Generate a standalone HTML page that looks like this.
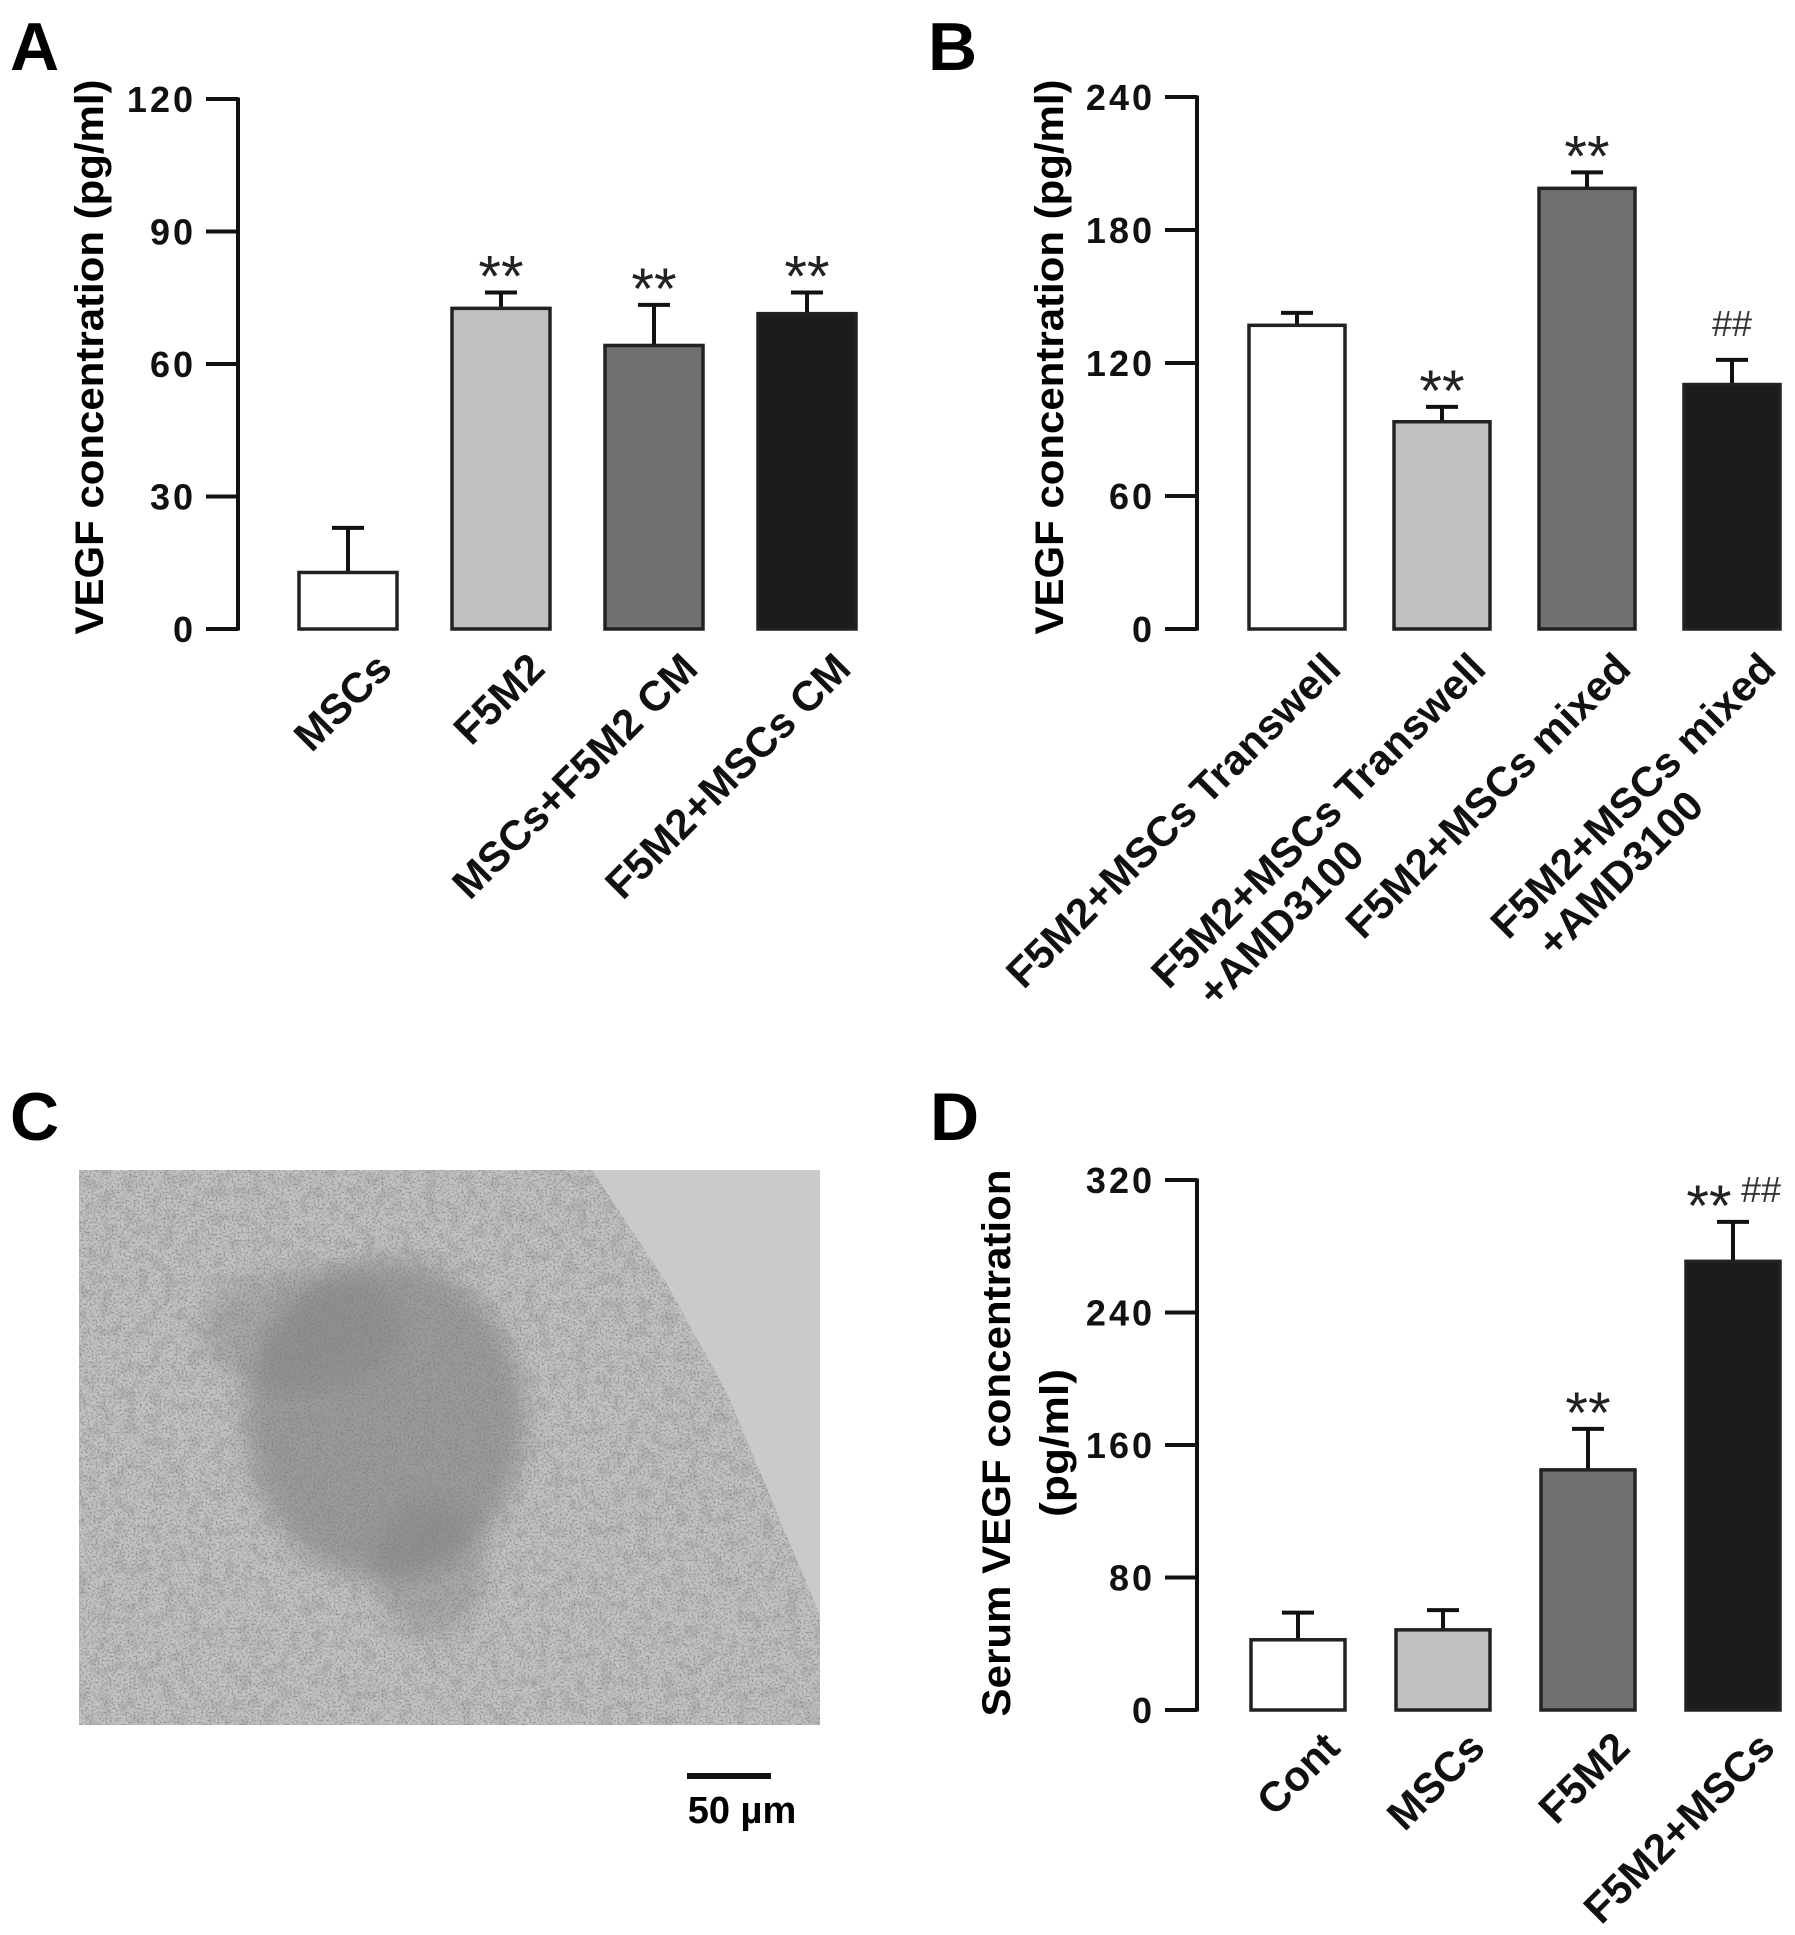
<!DOCTYPE html>
<html><head><meta charset="utf-8"><style>
html,body{margin:0;padding:0;background:#fff;}
svg{display:block;}
text{font-family:"Liberation Sans",Arial,sans-serif;}
</style></head><body>
<svg id="fig" width="1795" height="1935" viewBox="0 0 1795 1935" xmlns="http://www.w3.org/2000/svg">
<defs>
<filter id="grain" x="0" y="0" width="100%" height="100%">
<feTurbulence type="fractalNoise" baseFrequency="0.5" numOctaves="2" seed="7" result="n"/>
<feColorMatrix type="matrix" values="0 0 0 0 0.2  0 0 0 0 0.2  0 0 0 0 0.2  0 0 0 -3.2 1.75"/>
</filter>
<filter id="grain2" x="0" y="0" width="100%" height="100%">
<feTurbulence type="fractalNoise" baseFrequency="0.08" numOctaves="3" seed="3"/>
<feColorMatrix type="matrix" values="0 0 0 0 0.3  0 0 0 0 0.3  0 0 0 0 0.3  0 0 0 -4 2.2"/>
</filter>
<filter id="blur8"><feGaussianBlur stdDeviation="12"/></filter>
<clipPath id="imgclip"><rect x="79" y="1170" width="741" height="555"/></clipPath>
<clipPath id="tissueclip"><polygon points="79,1170 592,1170 666,1282 727,1393 789,1541 820,1615 820,1725 79,1725"/></clipPath>
</defs>

<text x="10" y="70" font-size="68" font-weight="bold">A</text>
<text x="928" y="70" font-size="68" font-weight="bold">B</text>
<text x="10" y="1140" font-size="68" font-weight="bold">C</text>
<text x="930" y="1140" font-size="68" font-weight="bold">D</text>

<g clip-path="url(#imgclip)">
<rect x="79" y="1170" width="741" height="555" fill="#c8c8c8"/>
<g clip-path="url(#tissueclip)">
<rect x="79" y="1170" width="741" height="555" fill="#c4c4c4"/>
<ellipse cx="385" cy="1420" rx="140" ry="160" fill="#6a6a6a" filter="url(#blur8)" opacity="0.45"/>
<ellipse cx="300" cy="1330" rx="100" ry="60" fill="#7a7a7a" filter="url(#blur8)" opacity="0.35"/>
<ellipse cx="430" cy="1570" rx="55" ry="70" fill="#7a7a7a" filter="url(#blur8)" opacity="0.35"/>
<rect x="79" y="1170" width="741" height="555" filter="url(#grain2)" opacity="0.3"/>
<rect x="79" y="1170" width="741" height="555" filter="url(#grain)" opacity="0.65"/>
</g>
<polygon points="592,1170 820,1170 820,1615 789,1541 727,1393 666,1282" fill="#cacaca"/>
</g>
<line x1="687" y1="1776" x2="771" y2="1776" stroke="#111" stroke-width="6"/>
<text x="742" y="1823" font-size="38" font-weight="bold" text-anchor="middle">50 µm</text>

<g id="chartA"></g>
<g id="chartB"></g>
<g id="chartD"></g>
</svg>
<script>
// Panel A data
const aCategories = [["MSCs"], ["F5M2"], ["MSCs+F5M2 CM"], ["F5M2+MSCs CM"]];
const aValues = [12.8, 72.6, 64.2, 71.4];
const aErrors = [22.9, 76.2, 73.4, 76.2];
const aStars = ["", "**", "**", "**"];
const aHashes = ["", "", "", ""];
const aTicks = [0, 30, 60, 90, 120];
// Panel B data
const bCategories = [["F5M2+MSCs Transwell"], ["F5M2+MSCs Transwell", "+AMD3100"], ["F5M2+MSCs mixed"], ["F5M2+MSCs mixed", "+AMD3100"]];
const bValues = [137, 93.5, 198.8, 110.3];
const bErrors = [142.6, 100.2, 206, 121.4];
const bStars = ["", "**", "**", ""];
const bHashes = ["", "", "", "##"];
const bTicks = [0, 60, 120, 180, 240];
// Panel D data
const dCategories = [["Cont"], ["MSCs"], ["F5M2"], ["F5M2+MSCs"]];
const dValues = [42.4, 48.4, 145, 270.9];
const dErrors = [58.8, 60.3, 169.7, 294.7];
const dStars = ["", "", "**", "**"];
const dHashes = ["", "", "", "##"];
const dTicks = [0, 80, 160, 240, 320];

const fills = ["#ffffff", "#c0c0c0", "#707070", "#1c1c1c"];
const NS = "http://www.w3.org/2000/svg";
function mk(parent, tag, attrs, txt) {
  const e = document.createElementNS(NS, tag);
  for (const k in attrs) e.setAttribute(k, attrs[k]);
  if (txt !== undefined) e.textContent = txt;
  parent.appendChild(e);
  return e;
}
function drawChart(g, cfg, cats, vals, errs, stars, hashes, ticks) {
  const ymax = ticks[ticks.length - 1];
  const yS = v => cfg.y0 - (v / ymax) * (cfg.y0 - cfg.yTop);
  const axis = mk(g, "line", {x1: cfg.axisX, y1: cfg.y0 + 1.5, x2: cfg.axisX, y2: cfg.yTop - 1.5, stroke: "#111", "stroke-width": 4});
  
  
  ticks.forEach(t => {
    const y = yS(t);
    const tk = mk(g, "line", {x1: cfg.axisX - 32, y1: y, x2: cfg.axisX, y2: y, stroke: "#111", "stroke-width": 4});
    
    
    const tl = mk(g, "text", {x: cfg.axisX - 42, y: y + 13, "font-size": 36, "font-weight": "bold", "text-anchor": "end", "letter-spacing": "3", fill: "#111"}, String(t));
    
    
  });
  cfg.titles.forEach(tt => {
    const ti = mk(g, "text", {x: tt.x, y: tt.cy, "font-size": 40, "font-weight": "bold", "text-anchor": "middle", transform: `rotate(-90 ${tt.x} ${tt.cy})`, textLength: tt.len, lengthAdjust: "spacingAndGlyphs"}, tt.text);
    
    
  });
  cats.forEach((lines, i) => {
    const x = cfg.barX0 + i * cfg.step;
    const cx = x + cfg.bw / 2;
    const top = yS(vals[i]);
    const et = yS(errs[i]);
    const eb = mk(g, "line", {x1: cx, y1: top, x2: cx, y2: et, stroke: "#111", "stroke-width": 4});
    
    
    const ec = mk(g, "line", {x1: cx - 16, y1: et, x2: cx + 16, y2: et, stroke: "#111", "stroke-width": 4});
    
    
    const bar = mk(g, "rect", {x: x, y: top, width: cfg.bw, height: cfg.y0 - top, fill: fills[i], stroke: "#222", "stroke-width": 3.5});
    
    
    if (stars[i] && hashes[i]) {
      const s = mk(g, "text", {x: cx - 24, y: et + 4, "font-size": 58, "text-anchor": "middle", fill: "#222"}, stars[i]);
      
      
      const h = mk(g, "text", {x: cx + 28, y: et - 20, "font-size": 36, "text-anchor": "middle", fill: "#333", "font-family": "Liberation Serif, serif"}, hashes[i]);
      
      
    } else if (stars[i]) {
      const s = mk(g, "text", {x: cx, y: et + 4, "font-size": 58, "text-anchor": "middle", fill: "#222"}, stars[i]);
      
      
    } else if (hashes[i]) {
      const h = mk(g, "text", {x: cx, y: et - 24, "font-size": 36, "text-anchor": "middle", fill: "#333", "font-family": "Liberation Serif, serif"}, hashes[i]);
      
      
    }
    const ax = cx + cfg.labDx, ay = cfg.y0 + cfg.labDy;
    const l1 = mk(g, "text", {x: ax, y: ay, "font-size": 42, "font-weight": "bold", "text-anchor": "end", transform: `rotate(-45 ${ax} ${ay})`, fill: "#111"}, lines[0]);
    
    
    if (lines.length > 1) {
      const len = l1.getComputedTextLength();
      const sx = ax - len + 20, sy = ay + 46;
      const l2 = mk(g, "text", {x: sx, y: sy, "font-size": 42, "font-weight": "bold", "text-anchor": "start", transform: `rotate(-45 ${ax} ${ay})`, fill: "#111"}, lines[1]);
      
      
    }
  });
}
drawChart(document.getElementById("chartA"),
  {axisX: 238, y0: 629, yTop: 99, barX0: 299, step: 153, bw: 98, labDx: 46, labDy: 42,
   titles: [{x: 103, cy: 357, len: 555, text: "VEGF concentration (pg/ml)"}]},
  aCategories, aValues, aErrors, aStars, aHashes, aTicks);
drawChart(document.getElementById("chartB"),
  {axisX: 1197, y0: 629, yTop: 97, barX0: 1249, step: 145, bw: 96, labDx: 46, labDy: 42,
   titles: [{x: 1063, cy: 357, len: 555, text: "VEGF concentration (pg/ml)"}]},
  bCategories, bValues, bErrors, bStars, bHashes, bTicks);
drawChart(document.getElementById("chartD"),
  {axisX: 1197, y0: 1710, yTop: 1180, barX0: 1251, step: 145, bw: 94, labDx: 44, labDy: 40,
   titles: [{x: 1010, cy: 1443, len: 547, text: "Serum VEGF concentration"}, {x: 1068, cy: 1443, len: 148, text: "(pg/ml)"}]},
  dCategories, dValues, dErrors, dStars, dHashes, dTicks);
</script>
</body></html>
